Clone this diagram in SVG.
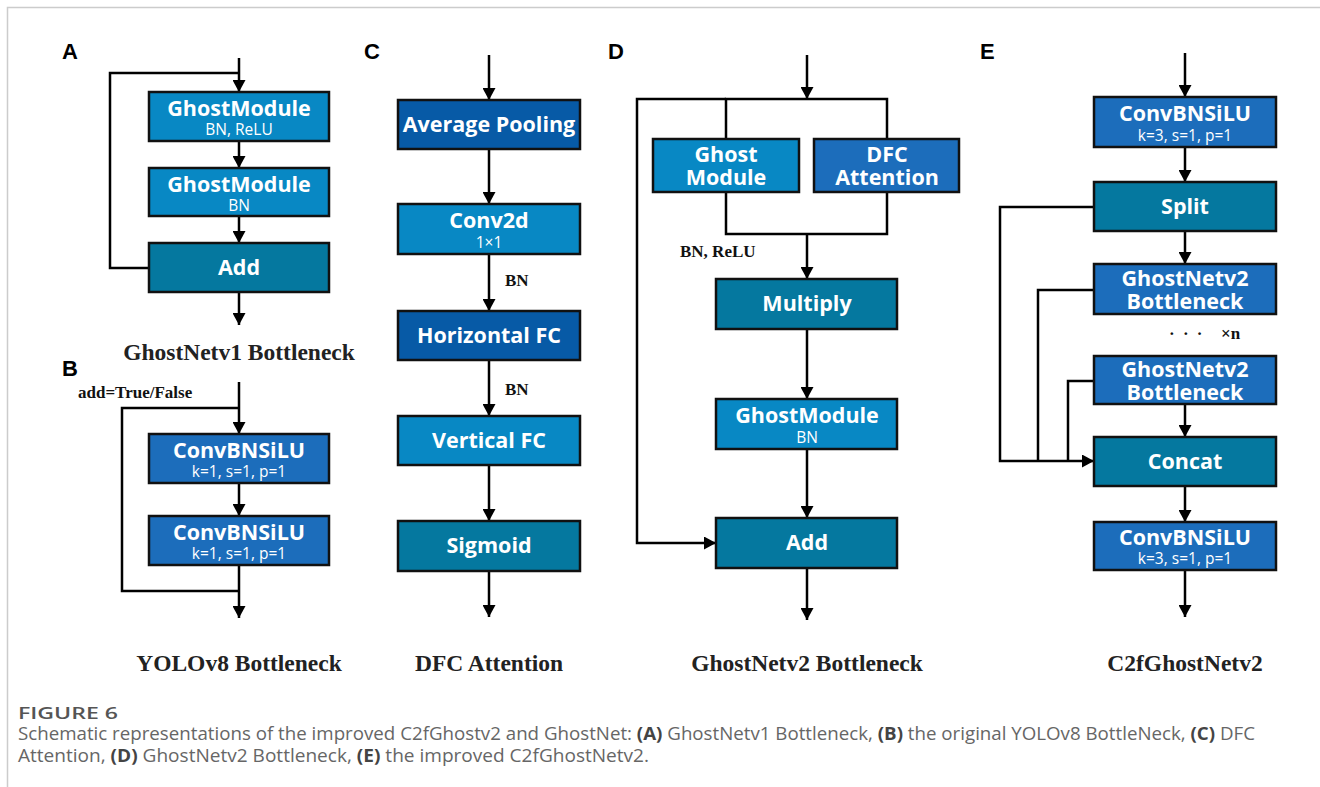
<svg xmlns="http://www.w3.org/2000/svg" width="1320" height="787" viewBox="0 0 1320 787">
<defs>
<marker id="ah" viewBox="0 0 12 13" refX="12" refY="6.5" markerWidth="12" markerHeight="13" markerUnits="userSpaceOnUse" orient="auto">
<path d="M0,0 L12,6.5 L0,13 Z" fill="#000"/>
</marker>
<style>
.bx{stroke:#111;stroke-width:2.5}
.gm{fill:#0888c4}
.tl{fill:#05789f}
.cb{fill:#1c6dbb}
.dk{fill:#075aa6}
.t{font-family:"Open Sans","Noto Sans",sans-serif;font-weight:bold;font-size:21.5px;fill:#fff;text-anchor:middle}
.s{font-weight:normal;font-size:15.5px}
.ti{font-family:"Liberation Serif",serif;font-weight:bold;font-size:23.5px;fill:#222;text-anchor:middle}
.lb{font-family:"Liberation Serif",serif;font-weight:bold;font-size:17px;fill:#111}
.pl{font-family:"Liberation Sans",Arial,sans-serif;font-weight:bold;font-size:22px;fill:#000}
.ln{fill:none;stroke:#000;stroke-width:2.5}
.cap{font-family:"Open Sans","Noto Sans",sans-serif;font-size:18px;fill:#666}
.cb2{font-weight:bold;fill:#444}
</style>
</defs>
<rect width="1320" height="787" fill="#fff"/>
<path d="M7.5,787 V7.5 H1320" fill="none" stroke="#ccc" stroke-width="1.5"/>

<g id="connectors">
<!-- A -->
<line class="ln" x1="239" y1="58" x2="239" y2="92" marker-end="url(#ah)"/>
<polyline class="ln" points="239,73 110,73 110,268 149,268"/>
<line class="ln" x1="239" y1="141" x2="239" y2="168" marker-end="url(#ah)"/>
<line class="ln" x1="239" y1="216" x2="239" y2="243" marker-end="url(#ah)"/>
<line class="ln" x1="239" y1="292" x2="239" y2="325" marker-end="url(#ah)"/>
<!-- B -->
<line class="ln" x1="239" y1="382" x2="239" y2="434" marker-end="url(#ah)"/>
<polyline class="ln" points="239,408 122,408 122,591 239,591"/>
<line class="ln" x1="239" y1="483" x2="239" y2="516" marker-end="url(#ah)"/>
<line class="ln" x1="239" y1="565" x2="239" y2="618" marker-end="url(#ah)"/>
<!-- C -->
<line class="ln" x1="489" y1="55" x2="489" y2="100" marker-end="url(#ah)"/>
<line class="ln" x1="489" y1="149" x2="489" y2="204" marker-end="url(#ah)"/>
<line class="ln" x1="489" y1="254" x2="489" y2="311" marker-end="url(#ah)"/>
<line class="ln" x1="489" y1="360" x2="489" y2="416" marker-end="url(#ah)"/>
<line class="ln" x1="489" y1="465" x2="489" y2="521" marker-end="url(#ah)"/>
<line class="ln" x1="489" y1="571" x2="489" y2="617" marker-end="url(#ah)"/>
<!-- D -->
<line class="ln" x1="807" y1="55" x2="807" y2="99" marker-end="url(#ah)"/>
<polyline class="ln" points="726,139 726,99 887,99 887,139"/>
<polyline class="ln" points="726,99 637,99 637,543 716,543" marker-end="url(#ah)"/>
<polyline class="ln" points="726,192 726,234 887,234 887,192"/>
<line class="ln" x1="807" y1="234" x2="807" y2="279" marker-end="url(#ah)"/>
<line class="ln" x1="807" y1="329" x2="807" y2="399" marker-end="url(#ah)"/>
<line class="ln" x1="807" y1="449" x2="807" y2="518" marker-end="url(#ah)"/>
<line class="ln" x1="807" y1="568" x2="807" y2="620" marker-end="url(#ah)"/>
<!-- E -->
<line class="ln" x1="1185" y1="53" x2="1185" y2="97" marker-end="url(#ah)"/>
<line class="ln" x1="1185" y1="147" x2="1185" y2="182" marker-end="url(#ah)"/>
<line class="ln" x1="1185" y1="231" x2="1185" y2="264" marker-end="url(#ah)"/>
<line class="ln" x1="1185" y1="404" x2="1185" y2="437" marker-end="url(#ah)"/>
<line class="ln" x1="1185" y1="486" x2="1185" y2="522" marker-end="url(#ah)"/>
<line class="ln" x1="1185" y1="570" x2="1185" y2="617" marker-end="url(#ah)"/>
<polyline class="ln" points="1094,207 1000,207 1000,461 1094,461" marker-end="url(#ah)"/>
<polyline class="ln" points="1094,290 1038,290 1038,461"/>
<polyline class="ln" points="1094,381 1068,381 1068,461"/>
</g>

<!-- Panel A -->
<text class="pl" x="62" y="59">A</text>
<g id="a-gm1"><rect class="bx gm" x="149" y="92" width="180" height="49"/><text class="t" x="239" y="116">GhostModule<tspan class="s" x="239" y="135">BN, ReLU</tspan></text></g>
<g id="a-gm2"><rect class="bx gm" x="149" y="168" width="180" height="48"/><text class="t" x="239" y="192">GhostModule<tspan class="s" x="239" y="211">BN</tspan></text></g>
<g id="a-add"><rect class="bx tl" x="149" y="243" width="180" height="49"/><text class="t" x="239" y="275">Add</text></g>
<text class="ti" x="239" y="360">GhostNetv1 Bottleneck</text>

<!-- Panel B -->
<text class="pl" x="62" y="376">B</text>
<text class="lb" x="78" y="398">add=True/False</text>
<g id="b-cb1"><rect class="bx cb" x="149" y="434" width="180" height="49"/><text class="t" x="239" y="458">ConvBNSiLU<tspan class="s" x="239" y="477">k=1, s=1, p=1</tspan></text></g>
<g id="b-cb2"><rect class="bx cb" x="149" y="516" width="180" height="49"/><text class="t" x="239" y="540">ConvBNSiLU<tspan class="s" x="239" y="559">k=1, s=1, p=1</tspan></text></g>
<text class="ti" x="239" y="671">YOLOv8 Bottleneck</text>

<!-- Panel C -->
<text class="pl" x="364" y="59">C</text>
<g id="c-avg"><rect class="bx dk" x="398" y="100" width="182" height="49"/><text class="t" x="489" y="132">Average Pooling</text></g>
<g id="c-conv"><rect class="bx gm" x="398" y="204" width="182" height="50"/><text class="t" x="489" y="228">Conv2d<tspan class="s" x="489" y="248">1×1</tspan></text></g>
<text class="lb" x="505" y="286">BN</text>
<g id="c-hfc"><rect class="bx dk" x="398" y="311" width="182" height="49"/><text class="t" x="489" y="343">Horizontal FC</text></g>
<text class="lb" x="505" y="395">BN</text>
<g id="c-vfc"><rect class="bx gm" x="398" y="416" width="182" height="49"/><text class="t" x="489" y="448">Vertical FC</text></g>
<g id="c-sig"><rect class="bx tl" x="398" y="521" width="182" height="50"/><text class="t" x="489" y="553">Sigmoid</text></g>
<text class="ti" x="489" y="671">DFC Attention</text>

<!-- Panel D -->
<text class="pl" x="608" y="59">D</text>
<g id="d-gm"><rect class="bx gm" x="653" y="139" width="146" height="53"/><text class="t" x="726" y="162">Ghost<tspan x="726" y="185">Module</tspan></text></g>
<g id="d-dfc"><rect class="bx cb" x="814" y="139" width="145" height="53"/><text class="t" x="887" y="162">DFC<tspan x="887" y="185">Attention</tspan></text></g>
<text class="lb" x="680" y="257">BN, ReLU</text>
<g id="d-mul"><rect class="bx tl" x="716" y="279" width="181" height="50"/><text class="t" x="807" y="311">Multiply</text></g>
<g id="d-gm2"><rect class="bx gm" x="716" y="399" width="181" height="50"/><text class="t" x="807" y="423">GhostModule<tspan class="s" x="807" y="443">BN</tspan></text></g>
<g id="d-add"><rect class="bx tl" x="716" y="518" width="181" height="50"/><text class="t" x="807" y="550">Add</text></g>
<text class="ti" x="807" y="671">GhostNetv2 Bottleneck</text>

<!-- Panel E -->
<text class="pl" x="980" y="59">E</text>
<g id="e-cb1"><rect class="bx cb" x="1094" y="97" width="182" height="50"/><text class="t" x="1185" y="121">ConvBNSiLU<tspan class="s" x="1185" y="141">k=3, s=1, p=1</tspan></text></g>
<g id="e-split"><rect class="bx tl" x="1094" y="182" width="182" height="49"/><text class="t" x="1185" y="214">Split</text></g>
<g id="e-bn1"><rect class="bx cb" x="1094" y="264" width="182" height="50"/><text class="t" x="1185" y="286">GhostNetv2<tspan x="1185" y="309">Bottleneck</tspan></text></g>
<text class="lb" x="1169" y="339" letter-spacing="2">· · ·</text>
<text class="lb" x="1221" y="339" font-size="18">×n</text>
<g id="e-bn2"><rect class="bx cb" x="1094" y="356" width="182" height="48"/><text class="t" x="1185" y="377">GhostNetv2<tspan x="1185" y="400">Bottleneck</tspan></text></g>
<g id="e-concat"><rect class="bx tl" x="1094" y="437" width="182" height="49"/><text class="t" x="1185" y="469">Concat</text></g>
<g id="e-cb2"><rect class="bx cb" x="1094" y="522" width="182" height="48"/><text class="t" x="1185" y="545">ConvBNSiLU<tspan class="s" x="1185" y="564">k=3, s=1, p=1</tspan></text></g>
<text class="ti" x="1185" y="671">C2fGhostNetv2</text>

<!-- Caption -->
<text class="cap"><tspan x="18" y="719" font-size="17" font-weight="600" fill="#555" textLength="100" lengthAdjust="spacingAndGlyphs">FIGURE 6</tspan><tspan x="18" y="740" textLength="1237" lengthAdjust="spacingAndGlyphs">Schematic representations of the improved C2fGhostv2 and GhostNet: <tspan class="cb2">(A)</tspan> GhostNetv1 Bottleneck, <tspan class="cb2">(B)</tspan> the original YOLOv8 BottleNeck, <tspan class="cb2">(C)</tspan> DFC</tspan><tspan x="18" y="762" textLength="631" lengthAdjust="spacingAndGlyphs">Attention, <tspan class="cb2">(D)</tspan> GhostNetv2 Bottleneck, <tspan class="cb2">(E)</tspan> the improved C2fGhostNetv2.</tspan></text>
</svg>
